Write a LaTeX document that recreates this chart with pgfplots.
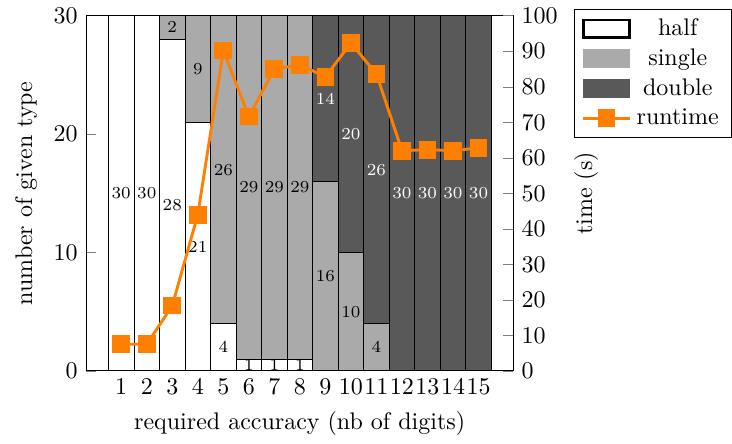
\documentclass[border=0pt]{standalone}
\usepackage{pgfplots}
\pgfplotsset{compat=1.18}
\definecolor{cSingle}{RGB}{170,170,170}
\definecolor{cDouble}{RGB}{89,89,89}
\definecolor{cRun}{RGB}{255,128,0}
\pgfplotsset{
  common/.style={scale only axis, width=178pt, height=148pt, xmin=-0.38, xmax=16.36},
  boxlegend/.style={legend image code/.code={\draw[#1] (0cm,-0.13cm) rectangle (0.68cm,0.13cm);}},
  linelegend/.style={legend image code/.code={\draw[#1, mark repeat=2, mark phase=2] plot coordinates {(0cm,0cm) (0.34cm,0cm) (0.68cm,0cm)};}},
}
\begin{document}
\begin{tikzpicture}
\begin{axis}[common,
  ybar stacked, bar width=1,
  ymin=0, ymax=30, ytick={0,10,20,30},
  ytick pos=left,
  xtick={1,...,15}, xtick style={draw=none},
  ytick style={gray},
  tick align=inside,
  xlabel={required accuracy (nb of digits)},
  ylabel={number of given type},
  point meta=rawy,
  nodes near coords={\pgfmathfloatifflags{\pgfplotspointmeta}{0}{}{\pgfmathprintnumber{\pgfplotspointmeta}}},
  every node near coord/.append style={font=\scriptsize, anchor=center},
]
\addplot[draw=black, fill=white, every node near coord/.append style={text=black}] coordinates {
(1,30) (2,30) (3,28) (4,21) (5,4) (6,1) (7,1) (8,1) (9,0) (10,0) (11,0) (12,0) (13,0) (14,0) (15,0)};
\addplot[draw=black, fill=cSingle, every node near coord/.append style={text=black}] coordinates {
(1,0) (2,0) (3,2) (4,9) (5,26) (6,29) (7,29) (8,29) (9,16) (10,10) (11,4) (12,0) (13,0) (14,0) (15,0)};
\addplot[draw=black, fill=cDouble, every node near coord/.append style={text=white}] coordinates {
(1,0) (2,0) (3,0) (4,0) (5,0) (6,0) (7,0) (8,0) (9,14) (10,20) (11,26) (12,30) (13,30) (14,30) (15,30)};
\end{axis}
\begin{axis}[common,
  ymin=0, ymax=100, ytick={0,10,...,100},
  axis y line*=right, axis x line=none,
  ytick style={gray}, tick align=inside,
  ylabel={time (s)},
  legend style={at={(rel axis cs:1,1)}, anchor=north west, xshift=25.4pt, yshift=3pt, draw=black,
    nodes={inner xsep=2.3pt}},
]
\addlegendimage{boxlegend, draw=black, very thick, fill=white}
\addlegendentry{half}
\addlegendimage{boxlegend, draw=cSingle, fill=cSingle}
\addlegendentry{single}
\addlegendimage{boxlegend, draw=cDouble, fill=cDouble}
\addlegendentry{double}
\addplot[cRun, very thick, mark=square*, mark size=3.1pt, mark options={solid}, linelegend] coordinates {
(1,7.5) (2,7.5) (3,18.4) (4,44.0) (5,90.2) (6,71.6) (7,85.0) (8,86.2) (9,82.8) (10,92.3) (11,83.6) (12,62.0) (13,62.3) (14,62.0) (15,62.8)};
\addlegendentry{runtime}
\end{axis}
\path ([xshift=-3pt]current bounding box.west);
\end{tikzpicture}
\end{document}
